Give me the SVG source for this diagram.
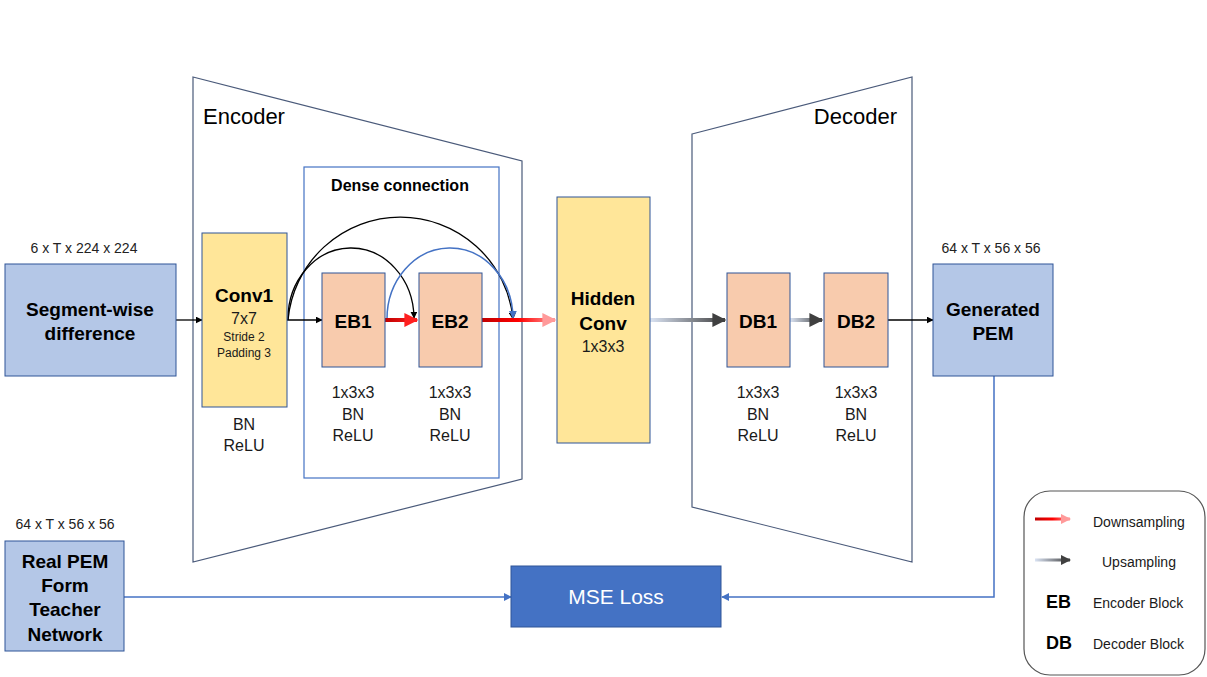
<svg xmlns="http://www.w3.org/2000/svg" width="1207" height="677" viewBox="0 0 1207 677">
<defs>
<style>
text{font-family:"Liberation Sans","Noto Sans",sans-serif;fill:#000;text-anchor:middle}
.b{font-weight:bold;font-size:19px}
.n{font-size:16px;fill:#1a1a1a}
.s{font-size:12px;fill:#1a1a1a}
.dim{font-size:14px;fill:#222}
.blue{fill:#b4c7e7;stroke:#2f5597;stroke-width:1}
.yel{fill:#ffe699;stroke:#2f5597;stroke-width:1}
.org{fill:#f8cbad;stroke:#2f5597;stroke-width:1}
.trap{fill:none;stroke:#4a5a7a;stroke-width:1.2}
.thin{fill:none;stroke:#000;stroke-width:1.3}
.bl{fill:none;stroke:#4472c4;stroke-width:1.5}
.leg{font-size:14px;text-anchor:start;fill:#1a1a1a}
</style>
<marker id="ak" viewBox="0 0 10 10" refX="9" refY="5" markerWidth="7" markerHeight="7" markerUnits="userSpaceOnUse" orient="auto"><path d="M0,0L10,5L0,10z" fill="#000"/></marker>
<marker id="ab" viewBox="0 0 10 10" refX="9" refY="5" markerWidth="8" markerHeight="8" markerUnits="userSpaceOnUse" orient="auto"><path d="M0,0L10,5L0,10z" fill="#4472c4"/></marker>
<marker id="ar" viewBox="0 0 10 10" refX="9" refY="5" markerWidth="3.5" markerHeight="3.5" orient="auto"><path d="M0,0L10,5L0,10z" fill="#ff2020"/></marker>
<marker id="ar2" viewBox="0 0 10 10" refX="9" refY="5" markerWidth="3.5" markerHeight="3.5" orient="auto"><path d="M0,0L10,5L0,10z" fill="#ff9a9a"/></marker>
<marker id="ag" viewBox="0 0 10 10" refX="9" refY="5" markerWidth="3.5" markerHeight="3.5" orient="auto"><path d="M0,0L10,5L0,10z" fill="#404040"/></marker>
<linearGradient id="gr1" x1="0" x2="1" y1="0" y2="0"><stop offset="0" stop-color="#c00000"/><stop offset="1" stop-color="#ff2020"/></linearGradient>
<linearGradient id="gr2" x1="0" x2="1" y1="0" y2="0"><stop offset="0" stop-color="#c00000"/><stop offset="0.5" stop-color="#ff0000"/><stop offset="1" stop-color="#ff9a9a"/></linearGradient>
<linearGradient id="gu" x1="0" x2="1" y1="0" y2="0"><stop offset="0" stop-color="#dae3f3"/><stop offset="1" stop-color="#404040"/></linearGradient>
</defs>
<rect width="1207" height="677" fill="#fff"/>

<g id="encoder">
<polygon class="trap" points="193,77 522,161 522,479 193,562"/>
<text x="203" y="124" style="font-size:22px;text-anchor:start">Encoder</text>
</g>
<g id="decoder">
<polygon class="trap" points="692,134 912,77 912,562 692,507"/>
<text x="897" y="124" style="font-size:22px;text-anchor:end">Decoder</text>
</g>
<g id="dense">
<rect x="304" y="167" width="195" height="311" fill="none" stroke="#4472c4" stroke-width="1.2"/>
<text x="400" y="191" style="font-size:16px;font-weight:bold">Dense connection</text>
</g>

<g id="connectors">
<line class="thin" x1="176" y1="320" x2="202" y2="320" marker-end="url(#ak)"/>
<line class="thin" x1="287" y1="320" x2="322" y2="320" marker-end="url(#ak)"/>
<path class="thin" d="M288,320 A113,113 0 0 1 513,319" marker-end="url(#ak)"/>
<path class="thin" d="M288,320 A63,71 0 0 1 414,318" marker-end="url(#ak)"/>
<path class="bl" d="M387,320 A63,71 0 0 1 513,318" marker-end="url(#ab)"/>
<line x1="385" y1="320" x2="417" y2="320.01" stroke="url(#gr1)" stroke-width="4" marker-end="url(#ar)"/>
<line x1="482" y1="320" x2="555" y2="320.01" stroke="url(#gr2)" stroke-width="4" marker-end="url(#ar2)"/>
<line x1="650" y1="320" x2="725" y2="320.01" stroke="url(#gu)" stroke-width="4" marker-end="url(#ag)"/>
<line x1="790" y1="320" x2="822" y2="320.01" stroke="url(#gu)" stroke-width="4" marker-end="url(#ag)"/>
<line class="thin" x1="888" y1="320" x2="933" y2="320" marker-end="url(#ak)"/>
<line class="bl" x1="124" y1="597" x2="511" y2="597" marker-end="url(#ab)"/>
<polyline class="bl" points="994,376 994,597 722,597" marker-end="url(#ab)"/>
</g>

<g id="segment">
<text x="84" y="253" class="dim">6 x T x 224 x 224</text>
<rect class="blue" x="5" y="264" width="171" height="112"/>
<text x="90" y="316" class="b">Segment-wise</text>
<text x="90" y="340" class="b">difference</text>
</g>
<g id="conv1">
<rect class="yel" x="202" y="233" width="85" height="174"/>
<text x="244" y="302" class="b">Conv1</text>
<text x="244" y="324" class="n">7x7</text>
<text x="244" y="341" class="s">Stride 2</text>
<text x="244" y="357" class="s">Padding 3</text>
<text x="244" y="430" class="n">BN</text>
<text x="244" y="451" class="n">ReLU</text>
</g>
<g id="eb1">
<rect class="org" x="322" y="273" width="63" height="94"/>
<text x="353" y="328" class="b">EB1</text>
<text x="353" y="398" class="n">1x3x3</text>
<text x="353" y="420" class="n">BN</text>
<text x="353" y="441" class="n">ReLU</text>
</g>
<g id="eb2">
<rect class="org" x="419" y="273" width="63" height="94"/>
<text x="450" y="328" class="b">EB2</text>
<text x="450" y="398" class="n">1x3x3</text>
<text x="450" y="420" class="n">BN</text>
<text x="450" y="441" class="n">ReLU</text>
</g>
<g id="hidden">
<rect class="yel" x="557" y="197" width="93" height="246"/>
<text x="603" y="305" class="b">Hidden</text>
<text x="603" y="330" class="b">Conv</text>
<text x="603" y="352" class="n">1x3x3</text>
</g>
<g id="db1">
<rect class="org" x="727" y="273" width="63" height="94"/>
<text x="758" y="328" class="b">DB1</text>
<text x="758" y="398" class="n">1x3x3</text>
<text x="758" y="420" class="n">BN</text>
<text x="758" y="441" class="n">ReLU</text>
</g>
<g id="db2">
<rect class="org" x="824" y="273" width="64" height="94"/>
<text x="856" y="328" class="b">DB2</text>
<text x="856" y="398" class="n">1x3x3</text>
<text x="856" y="420" class="n">BN</text>
<text x="856" y="441" class="n">ReLU</text>
</g>
<g id="genpem">
<text x="991" y="253" class="dim">64 x T x 56 x 56</text>
<rect class="blue" x="933" y="264" width="120" height="112"/>
<text x="993" y="316" class="b">Generated</text>
<text x="993" y="340" class="b">PEM</text>
</g>
<g id="realpem">
<text x="65" y="529" class="dim">64 x T x 56 x 56</text>
<rect class="blue" x="5" y="541" width="119" height="110"/>
<text x="65" y="568" class="b">Real PEM</text>
<text x="65" y="592" class="b">Form</text>
<text x="65" y="616" class="b">Teacher</text>
<text x="65" y="641" class="b">Network</text>
</g>
<g id="mse">
<rect x="511" y="566" width="210" height="61" fill="#4472c4" stroke="#2f5597" stroke-width="1"/>
<text x="616" y="604" style="font-size:21px;fill:#fff">MSE Loss</text>
</g>
<g id="legend">
<rect x="1024" y="491" width="181" height="184" rx="26" ry="26" fill="#fff" stroke="#555" stroke-width="1.2"/>
<line x1="1035" y1="519" x2="1070" y2="519.01" stroke="url(#gr2)" stroke-width="3" marker-end="url(#ar2)"/>
<text x="1093" y="527" class="leg">Downsampling</text>
<line x1="1035" y1="560" x2="1070" y2="560.01" stroke="url(#gu)" stroke-width="3" marker-end="url(#ag)"/>
<text x="1102" y="567" class="leg">Upsampling</text>
<text x="1046" y="608" style="font-size:18px;font-weight:bold;text-anchor:start">EB</text>
<text x="1093" y="608" class="leg">Encoder Block</text>
<text x="1046" y="649" style="font-size:18px;font-weight:bold;text-anchor:start">DB</text>
<text x="1093" y="649" class="leg">Decoder Block</text>
</g>
</svg>
